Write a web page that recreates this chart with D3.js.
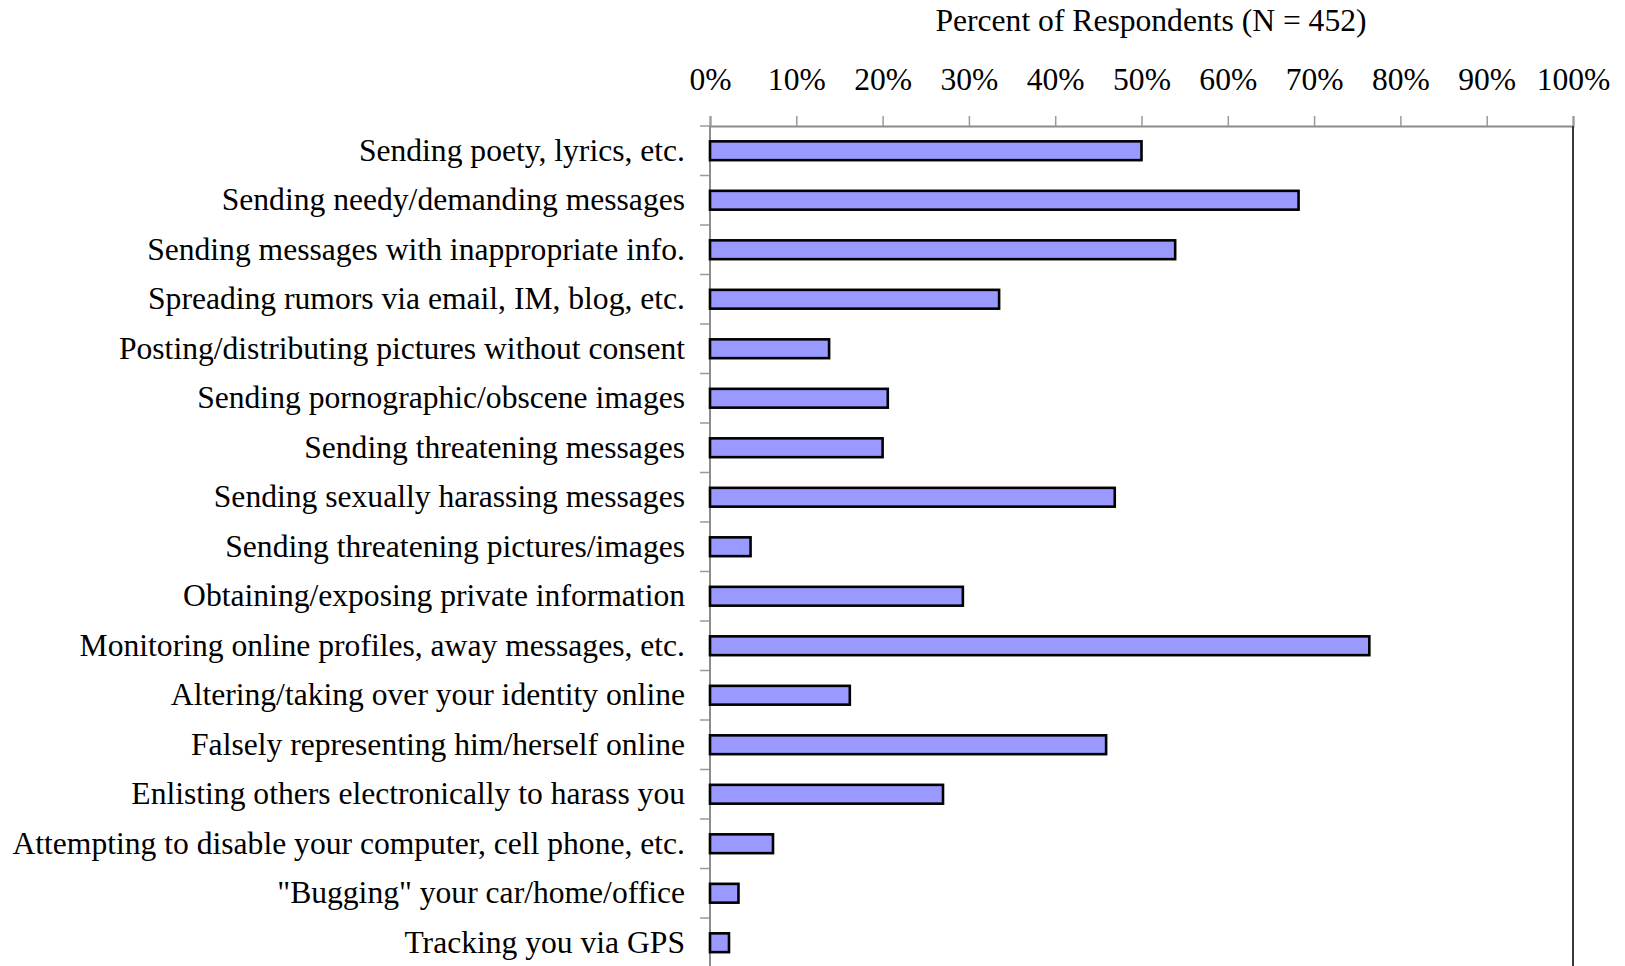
<!DOCTYPE html>
<html>
<head>
<meta charset="utf-8">
<script src="https://cdn.jsdelivr.net/npm/d3@7"></script>
<style>
  body { margin: 0; background: #fff; }
  text { font-family: "Liberation Serif", "Times New Roman", serif; fill: #000; }
</style>
</head>
<body>
<svg id="drawing_region"></svg>
<script>
const categories = [
    "Sending poety, lyrics, etc.",
    "Sending needy/demanding messages",
    "Sending messages with inappropriate info.",
    "Spreading rumors via email, IM, blog, etc.",
    "Posting/distributing pictures without consent",
    "Sending pornographic/obscene images",
    "Sending threatening messages",
    "Sending sexually harassing messages",
    "Sending threatening pictures/images",
    "Obtaining/exposing private information",
    "Monitoring online profiles, away messages, etc.",
    "Altering/taking over your identity online",
    "Falsely representing him/herself online",
    "Enlisting others electronically to harass you",
    "Attempting to disable your computer, cell phone, etc.",
    "\"Bugging\" your car/home/office",
    "Tracking you via GPS"
];
const percents = [50.0, 68.2, 53.9, 33.5, 13.8, 20.6, 20.0, 46.9, 4.7, 29.3, 76.4, 16.2, 45.9, 27.0, 7.3, 3.3, 2.2];
const xticks = [0, 10, 20, 30, 40, 50, 60, 70, 80, 90, 100];
const title = "Percent of Respondents (N = 452)";

const config = {
    width: 1625,
    height: 966,
    margin: {top: 126, left: 710, right: 52},
    font: '31.6px'
};

const svg = d3.select('#drawing_region')
    .attr('width', config.width)
    .attr('height', config.height);

const inner_width = config.width - config.margin.left - config.margin.right;

const xscale = d3.scaleLinear()
    .domain([0, 100])
    .range([config.margin.left, config.margin.left + inner_width]);

const yscale = d3.scaleBand()
    .domain(categories)
    .range([config.margin.top, config.margin.top + 49.5 * categories.length])
    .paddingInner(0.62)
    .paddingOuter(0.31);

// title
svg.append('text')
    .attr('x', 1151)
    .attr('y', 31)
    .attr('text-anchor', 'middle')
    .attr('font-size', config.font)
    .text(title);

// top axis
const xaxis = d3.axisTop(xscale)
    .tickValues(xticks)
    .tickSize(10)
    .tickPadding(26)
    .tickFormat(d => d + '%');

const xaxis_group = svg.append('g')
    .attr('transform', `translate(0, ${config.margin.top})`)
    .call(xaxis);
xaxis_group.select('.domain').attr('stroke', '#8c8c8c').attr('stroke-width', 2);
xaxis_group.selectAll('.tick line').attr('stroke', '#9a9a9a').attr('stroke-width', 1.5);
xaxis_group.selectAll('.tick text')
    .attr('font-family', '"Liberation Serif", serif')
    .attr('font-size', config.font)
    .attr('fill', '#000');

// left axis labels
const yaxis = d3.axisLeft(yscale).tickSize(0).tickPadding(25);
const yaxis_group = svg.append('g')
    .attr('transform', `translate(${config.margin.left}, 0)`)
    .call(yaxis);
yaxis_group.select('.domain').remove();
yaxis_group.selectAll('.tick text')
    .attr('font-family', '"Liberation Serif", serif')
    .attr('font-size', config.font)
    .attr('fill', '#000');

// category separators on the left axis
const y0 = yscale.range()[0];
svg.append('g').selectAll('line')
    .data(d3.range(categories.length + 1))
    .join('line')
    .attr('x1', config.margin.left - 10)
    .attr('x2', config.margin.left)
    .attr('y1', i => y0 + i * yscale.step())
    .attr('y2', i => y0 + i * yscale.step())
    .attr('stroke', '#9a9a9a')
    .attr('stroke-width', 1.5);

svg.append('line')
    .attr('x1', config.margin.left).attr('x2', config.margin.left)
    .attr('y1', config.margin.top).attr('y2', config.height)
    .attr('stroke', '#8c8c8c').attr('stroke-width', 2);

// right border of plot area
svg.append('line')
    .attr('x1', xscale(100)).attr('x2', xscale(100))
    .attr('y1', config.margin.top).attr('y2', config.height)
    .attr('stroke', '#3a3a3a').attr('stroke-width', 2);

// bars
svg.append('g').selectAll('rect')
    .data(categories)
    .join('rect')
    .attr('x', xscale(0))
    .attr('y', d => yscale(d))
    .attr('width', (d, i) => xscale(percents[i]) - xscale(0))
    .attr('height', yscale.bandwidth())
    .attr('fill', '#9999ff')
    .attr('stroke', '#000')
    .attr('stroke-width', 2.6);
</script>
</body>
</html>
